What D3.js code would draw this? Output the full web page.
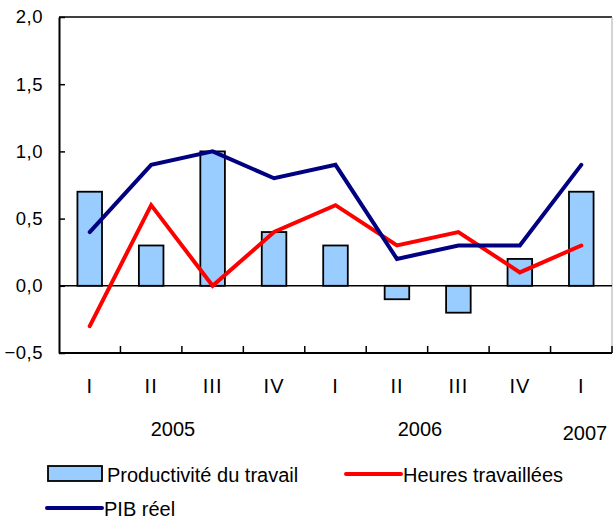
<!DOCTYPE html>
<html>
<head>
<meta charset="utf-8">
<script src="https://cdn.jsdelivr.net/npm/d3@7"></script>
<style>
  body { margin: 0; background: #fff; }
  text { font-family: "Liberation Sans", Arial, sans-serif; fill: #000; }
</style>
</head>
<body>
<svg id="chart"></svg>
<script>
// quarters and years
const quarters = ["I", "II", "III", "IV", "I", "II", "III", "IV", "I"];
const years = [
  { label: "2005", x: 173, y: 436 },
  { label: "2006", x: 420, y: 436 },
  { label: "2007", x: 585, y: 440 }
];
// series values (%)
const productivite = [0.7, 0.3, 1.0, 0.4, 0.3, -0.1, -0.2, 0.2, 0.7];
const heures = [-0.3, 0.6, 0.0, 0.4, 0.6, 0.3, 0.4, 0.1, 0.3];
const pib = [0.4, 0.9, 1.0, 0.8, 0.9, 0.2, 0.3, 0.3, 0.9];
const yTicks = [-0.5, 0, 0.5, 1.0, 1.5, 2.0];

const width = 613;
const height = 519;
const margin = { top: 17, right: 1, bottom: 166, left: 59 };

const svg = d3.select("#chart")
  .attr("width", width)
  .attr("height", height);

const idx = d3.range(quarters.length);

const x = d3.scaleBand()
  .domain(idx)
  .range([margin.left, width - margin.right])
  .paddingInner(0)
  .paddingOuter(0);

const y = d3.scaleLinear()
  .domain([-0.5, 2.0])
  .range([height - margin.bottom, margin.top]);

const cx = i => x(i) + x.bandwidth() / 2;
const fmt = d => d3.format(".1f")(d).replace(".", ",");

// frame: top black, right grey
svg.append("line")
  .attr("x1", margin.left).attr("x2", width - margin.right)
  .attr("y1", y(2.0)).attr("y2", y(2.0))
  .attr("stroke", "#000").attr("stroke-width", 1.5);
svg.append("line")
  .attr("x1", width - margin.right).attr("x2", width - margin.right)
  .attr("y1", y(2.0)).attr("y2", y(-0.5))
  .attr("stroke", "#aaa").attr("stroke-width", 1);

// bars
const barW = x.bandwidth() * 0.4;
svg.selectAll("rect.bar")
  .data(productivite)
  .enter()
  .append("rect")
  .attr("class", "bar")
  .attr("x", (d, i) => cx(i) - barW / 2)
  .attr("y", d => y(Math.max(0, d)))
  .attr("width", barW)
  .attr("height", d => Math.abs(y(d) - y(0)))
  .attr("fill", "#99ccff")
  .attr("stroke", "#000")
  .attr("stroke-width", 1.8);

// zero line
svg.append("line")
  .attr("x1", margin.left).attr("x2", width - margin.right)
  .attr("y1", y(0)).attr("y2", y(0))
  .attr("stroke", "#000").attr("stroke-width", 1.5);

// y axis
const yAxis = d3.axisLeft(y)
  .tickValues(yTicks)
  .tickSizeInner(-6)
  .tickSizeOuter(0)
  .tickFormat(fmt);

const gy = svg.append("g")
  .attr("transform", `translate(${margin.left},0)`)
  .call(yAxis);
gy.select(".domain").attr("stroke", "#000").attr("stroke-width", 2);
gy.selectAll(".tick line").attr("stroke", "#000").attr("stroke-width", 1.5);
gy.selectAll(".tick text")
  .style("font-size", "18.5px")
  .style("letter-spacing", "0.5px")
  .attr("x", -16);

// x axis: line at bottom with inward ticks at band boundaries
const gx = svg.append("g");
gx.append("line")
  .attr("x1", margin.left).attr("x2", width - margin.right)
  .attr("y1", y(-0.5)).attr("y2", y(-0.5))
  .attr("stroke", "#000").attr("stroke-width", 2);
gx.selectAll("line.xt")
  .data(d3.range(1, quarters.length + 1))
  .enter()
  .append("line")
  .attr("class", "xt")
  .attr("x1", i => x(i - 1) + x.bandwidth())
  .attr("x2", i => x(i - 1) + x.bandwidth())
  .attr("y1", y(-0.5))
  .attr("y2", y(-0.5) - 7)
  .attr("stroke", "#000").attr("stroke-width", 1.5);

gx.selectAll("text.q")
  .data(quarters)
  .enter()
  .append("text")
  .attr("class", "q")
  .attr("x", (d, i) => cx(i))
  .attr("y", 393)
  .attr("text-anchor", "middle")
  .style("font-size", "20px")
  .style("letter-spacing", "1px")
  .text(d => d);

gx.selectAll("text.yr")
  .data(years)
  .enter()
  .append("text")
  .attr("class", "yr")
  .attr("x", d => d.x)
  .attr("y", d => d.y)
  .attr("text-anchor", "middle")
  .style("font-size", "20px")
  .text(d => d.label);

// lines
const line = d3.line()
  .x((d, i) => cx(i))
  .y(d => y(d));

svg.append("path")
  .datum(heures)
  .attr("d", line)
  .attr("fill", "none")
  .attr("stroke", "#ff0000")
  .attr("stroke-width", 4)
  .attr("stroke-linecap", "round");

svg.append("path")
  .datum(pib)
  .attr("d", line)
  .attr("fill", "none")
  .attr("stroke", "#000080")
  .attr("stroke-width", 4)
  .attr("stroke-linecap", "round");

// legend
const legend = svg.append("g");
legend.append("rect")
  .attr("x", 48).attr("y", 466).attr("width", 54).attr("height", 15)
  .attr("fill", "#99ccff").attr("stroke", "#000").attr("stroke-width", 1.8);
legend.append("text")
  .attr("x", 107).attr("y", 482)
  .style("font-size", "20px")
  .text("Productivité du travail");

legend.append("line")
  .attr("x1", 346).attr("x2", 401).attr("y1", 474).attr("y2", 474)
  .attr("stroke", "#ff0000").attr("stroke-width", 4).attr("stroke-linecap", "round");
legend.append("text")
  .attr("x", 403).attr("y", 482)
  .style("font-size", "20px")
  .text("Heures travaillées");

legend.append("line")
  .attr("x1", 47).attr("x2", 102).attr("y1", 508).attr("y2", 508)
  .attr("stroke", "#000080").attr("stroke-width", 4).attr("stroke-linecap", "round");
legend.append("text")
  .attr("x", 104).attr("y", 516)
  .style("font-size", "20px")
  .text("PIB réel");
</script>
</body>
</html>
